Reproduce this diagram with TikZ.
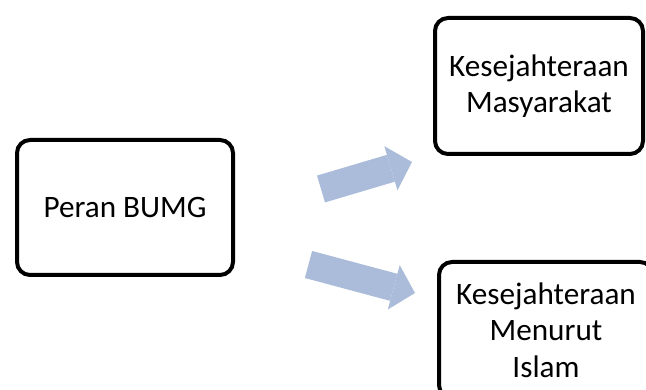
\documentclass[tikz,border=0pt]{standalone}
\usepackage{fontspec}
\setmainfont{Carlito}
\usetikzlibrary{arrows.meta}

\newlength{\du}
\setlength{\du}{1pt}
\definecolor{arrowcolor}{RGB}{170,188,218}

\tikzset{
  roundbox/.style={draw=black, line width=4\du, rounded corners=13\du, fill=white,
    align=center, inner sep=0pt, font=\fontsize{31.2}{36.5}\selectfont},
  blockarrow/.style={draw=arrowcolor, line width=28\du, line cap=butt,
    -{Triangle[length=22pt, width=46pt, line width=0pt]}}
}

\begin{document}
\begin{tikzpicture}[x=1\du, y=-1\du]
\useasboundingbox (0,0) rectangle (646,390);
\clip (0,0) rectangle (646,390);
% boxes
\node[roundbox, minimum width=216\du, minimum height=135\du] (peran) at (125,207.5) {Peran BUMG};
\node[roundbox, minimum width=208\du, minimum height=136\du] (masyarakat) at (539,86) {Kesejahteraan\\Masyarakat};
\node[roundbox, minimum width=214\du, minimum height=136\du] (islam) at (546,330) {Kesejahteraan\\Menurut\\Islam};
% block arrows
\coordinate (upTail) at (321,189);
\coordinate (upTip) at (412,162);
\coordinate (downTail) at (308.5,264.5);
\coordinate (downTip) at (415,293);
\draw[blockarrow] (upTail) -- (upTip);
\draw[blockarrow] (downTail) -- (downTip);
\end{tikzpicture}
\end{document}
